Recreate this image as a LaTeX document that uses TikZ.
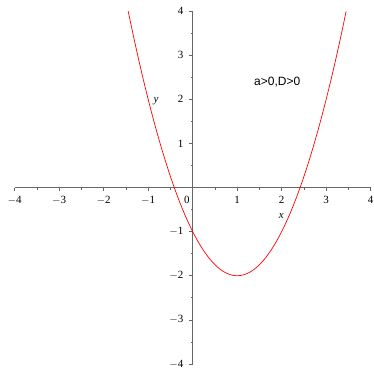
\documentclass[tikz,border=0pt]{standalone}
\usepackage{fontspec}
\setmainfont{Liberation Serif}
\setsansfont{Liberation Sans}
\begin{document}
\begin{tikzpicture}[x=44.5pt,y=44.1pt,
  axisline/.style={draw=black!60,line width=0.8pt},
  ticklab/.style={font=\fontsize{11}{13}\selectfont,inner sep=0pt},
  curve/.style={draw=red,line width=0.7pt}]
\useasboundingbox[fill=white] (-4.330,-4.229) rectangle (4.074,4.252);
% axes
\coordinate (xl) at (-4,0); \coordinate (xr) at (4,0);
\coordinate (yb) at (0,-4); \coordinate (yt) at (0,4);
\draw[axisline] (xl) -- (xr);
\draw[axisline] (yb) -- (yt);
% ticks
\foreach \i in {-4,...,4}{
  \draw[axisline,line width=0.6pt] (\i,0) -- ++(0,-3.5pt);
  \draw[axisline,line width=0.6pt] (0,\i) -- ++(-3.5pt,0);
}
\foreach \i in {-3.5,-2.5,...,3.5}{
  \draw[axisline,line width=0.6pt] (\i,0) -- ++(0,-2pt);
  \draw[axisline,line width=0.6pt] (0,\i) -- ++(-2pt,0);
}
% x tick labels
\foreach \i/\n in {-4/xm4,-3/xm3,-2/xm2,-1/xm1,1/xp1,2/xp2,3/xp3,4/xp4}{
  \node[ticklab] (\n) at (\i,-12.5pt) {\ifnum\i<0 $-$\the\numexpr-\i\relax\else\i\fi};
}
\node[ticklab] (x0) at (-0.13,-12.5pt) {0};
% y tick labels
\foreach \i/\n in {-4/ym4,-3/ym3,-2/ym2,-1/ym1,1/yp1,2/yp2,3/yp3,4/yp4}{
  \node[ticklab,anchor=east] (\n) at (-9pt,\i) {\ifnum\i<0 $-$\the\numexpr-\i\relax\else\i\fi};
}
% axis names
\node[ticklab,font=\itshape\fontsize{11}{13}\selectfont] (xname) at (1.99,-0.65) {x};
\node[ticklab,font=\itshape\fontsize{11}{13}\selectfont] (yname) at (-0.82,1.96) {y};
% curve
\draw[curve,domain=-1.4495:3.4495,samples=120,smooth] plot (\x,{\x*\x-2*\x-1});
% annotation
\node[font=\sffamily\fontsize{12}{14}\selectfont,inner sep=0pt] (ann) at (1.90,2.40) {a>0,D>0};
\end{tikzpicture}
\end{document}
